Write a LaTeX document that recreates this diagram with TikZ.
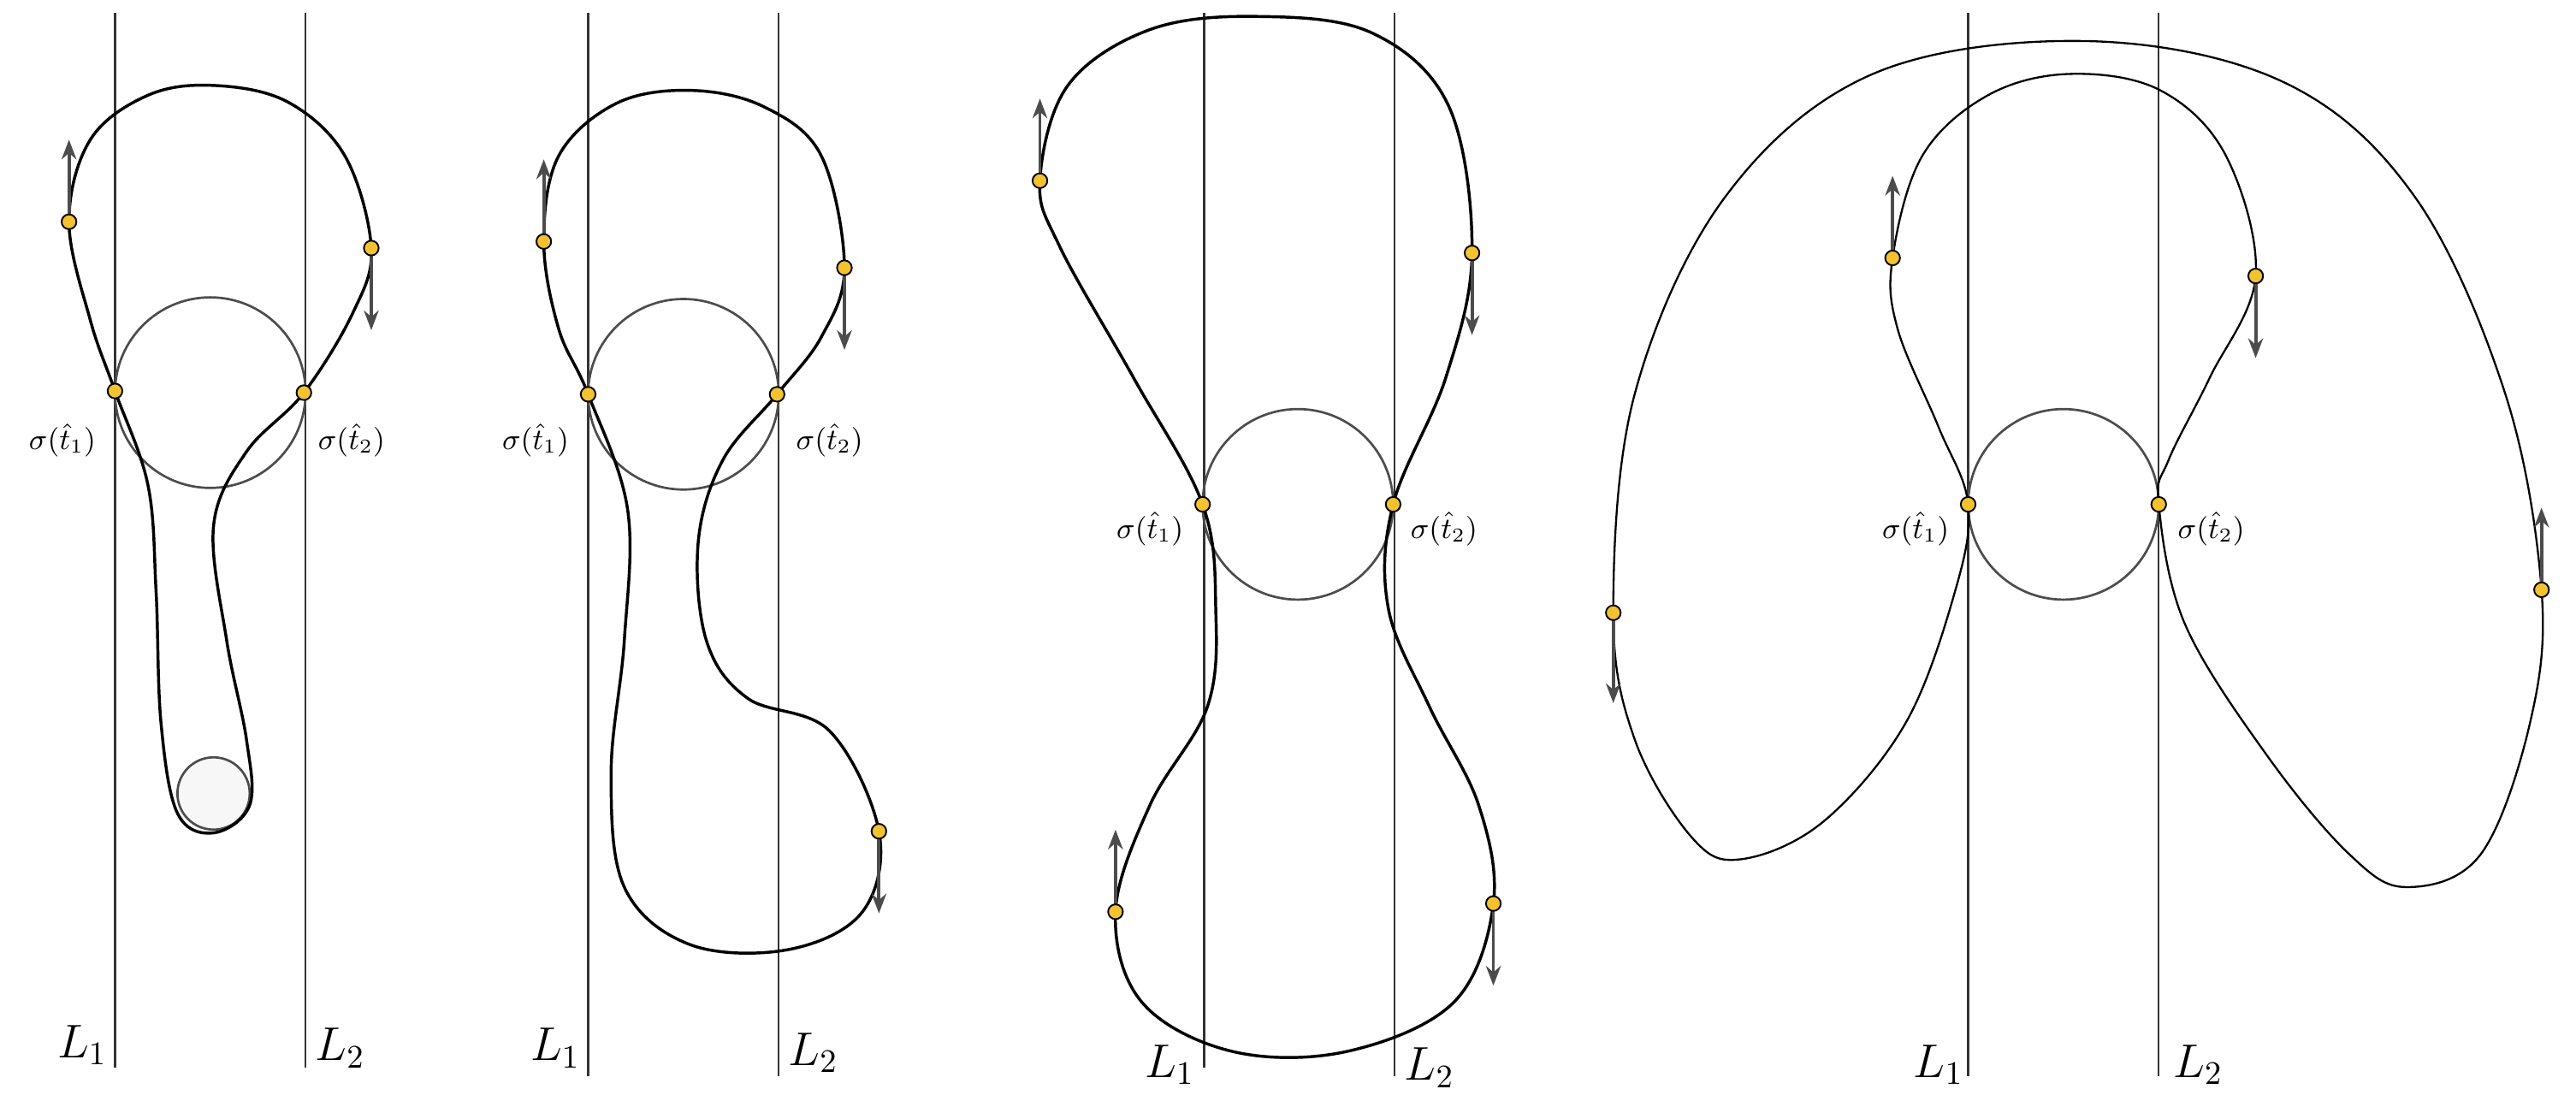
\documentclass[tikz,border=0pt]{standalone}
\usetikzlibrary{arrows.meta}
\definecolor{dotc}{HTML}{F2C230}
\begin{document}
\begin{tikzpicture}[x=0.5pt,y=-0.5pt,
  vline/.style={line width=0.6pt,draw=black!80},
  curve/.style={line width=0.9pt},
  circ/.style={line width=0.7pt,draw=black!70},
  dot/.style={circle,draw=black,fill=dotc,line width=0.5pt,inner sep=0pt,minimum size=4.5pt},
  vec/.style={line width=1pt,draw=black!70,-{Stealth[length=6pt,width=4.5pt]}},
  slab/.style={font=\small},
  llab/.style={font=\Large}]
\useasboundingbox (0,0) rectangle (1568,670);
% ---------- Panel 1
\draw[vline] (70,8) -- (70,650); \draw[vline] (186,8) -- (186,650);
\draw[circ] (128,239) circle (58);
\draw[circ,fill=black!3] (130,483) circle (22);
\draw[curve] plot[smooth cycle,tension=0.6] coordinates{(70,238) (55,195) (42,135) (55,85) (90,58) (130,52) (175,62) (210,95) (226,151) (215,190) (185,239) (150,275) (130,320) (138,390) (150,450) (152,490) (130,507) (108,495) (98,440) (95,360) (90,295)};
\draw[vec] (42,135) -- (42,85); \draw[vec] (226,151) -- (226,201);
\node[dot] (a1) at (70,238) {}; \node[dot] (a2) at (185,239) {};
\node[dot] at (42,135) {}; \node[dot] at (226,151) {};
\node[slab] at (38,268) {$\sigma(\hat t_1)$}; \node[slab] at (214,268) {$\sigma(\hat t_2)$};
\node[llab] at (50,636) {$L_1$}; \node[llab] at (207,638) {$L_2$};
% ---------- Panel 2
\draw[vline] (358,8) -- (358,655); \draw[vline] (474,8) -- (474,655);
\draw[circ] (416,240) circle (58);
\draw[curve] plot[smooth cycle,tension=0.6] coordinates{(358,240) (340,200) (331,147) (340,95) (375,63) (420,55) (465,65) (500,95) (514,163) (500,205) (473,240) (440,280) (425,330) (430,390) (455,425) (505,445) (535,506) (525,555) (480,578) (420,575) (380,540) (372,470) (380,390) (382,310)};
\draw[vec] (331,147) -- (331,97); \draw[vec] (514,163) -- (514,213); \draw[vec] (535,506) -- (535,556);
\node[dot] at (358,240) {}; \node[dot] at (473,240) {};
\node[dot] at (331,147) {}; \node[dot] at (514,163) {}; \node[dot] at (535,506) {};
\node[slab] at (326,268) {$\sigma(\hat t_1)$}; \node[slab] at (505,268) {$\sigma(\hat t_2)$};
\node[llab] at (338,638) {$L_1$}; \node[llab] at (495,641) {$L_2$};
% ---------- Panel 3
\draw[vline] (733,8) -- (733,650); \draw[vline] (849,8) -- (849,655);
\draw[circ] (790,307) circle (58);
\draw[curve] plot[smooth cycle,tension=0.6] coordinates{(732,307) (690,230) (645,150) (633,110) (650,52) (700,18) (765,10) (835,20) (882,65) (896,154) (880,230) (848,307) (845,370) (870,430) (900,490) (909,550) (885,610) (820,640) (750,640) (695,610) (679,555) (700,490) (735,430) (740,370)};
\draw[vec] (633,110) -- (633,60); \draw[vec] (896,154) -- (896,204);
\draw[vec] (679,555) -- (679,505); \draw[vec] (909,550) -- (909,600);
\node[dot] at (732,307) {}; \node[dot] at (848,307) {};
\node[dot] at (633,110) {}; \node[dot] at (896,154) {}; \node[dot] at (679,555) {}; \node[dot] at (909,550) {};
\node[slab] at (700,322) {$\sigma(\hat t_1)$}; \node[slab] at (879,322) {$\sigma(\hat t_2)$};
\node[llab] at (712,648) {$L_1$}; \node[llab] at (870,650) {$L_2$};
% ---------- Panel 4
\draw[vline] (1198,8) -- (1198,655); \draw[vline] (1314,8) -- (1314,655);
\draw[circ] (1256,307) circle (58);
\draw[line width=0.6pt] plot[smooth cycle,tension=0.6] coordinates{(1198,307) (1180,260) (1155,200) (1152,157) (1170,95) (1210,58) (1260,45) (1315,55) (1355,95) (1373,168) (1345,230) (1320,280) (1314,307) (1330,380) (1380,460) (1430,520) (1465,540) (1510,520) (1540,440) (1547,359) (1525,240) (1470,120) (1390,50) (1270,25) (1140,45) (1050,120) (995,240) (982,373) (995,450) (1030,510) (1060,523) (1110,500) (1160,440) (1190,360)};
\draw[vec] (1152,157) -- (1152,107); \draw[vec] (1373,168) -- (1373,218);
\draw[vec] (982,373) -- (982,428); \draw[vec] (1547,359) -- (1547,309);
\node[dot] at (1198,307) {}; \node[dot] at (1314,307) {};
\node[dot] at (1152,157) {}; \node[dot] at (1373,168) {}; \node[dot] at (982,373) {}; \node[dot] at (1547,359) {};
\node[slab] at (1166,322) {$\sigma(\hat t_1)$}; \node[slab] at (1346,322) {$\sigma(\hat t_2)$};
\node[llab] at (1180,648) {$L_1$}; \node[llab] at (1338,648) {$L_2$};
\end{tikzpicture}
\end{document}
